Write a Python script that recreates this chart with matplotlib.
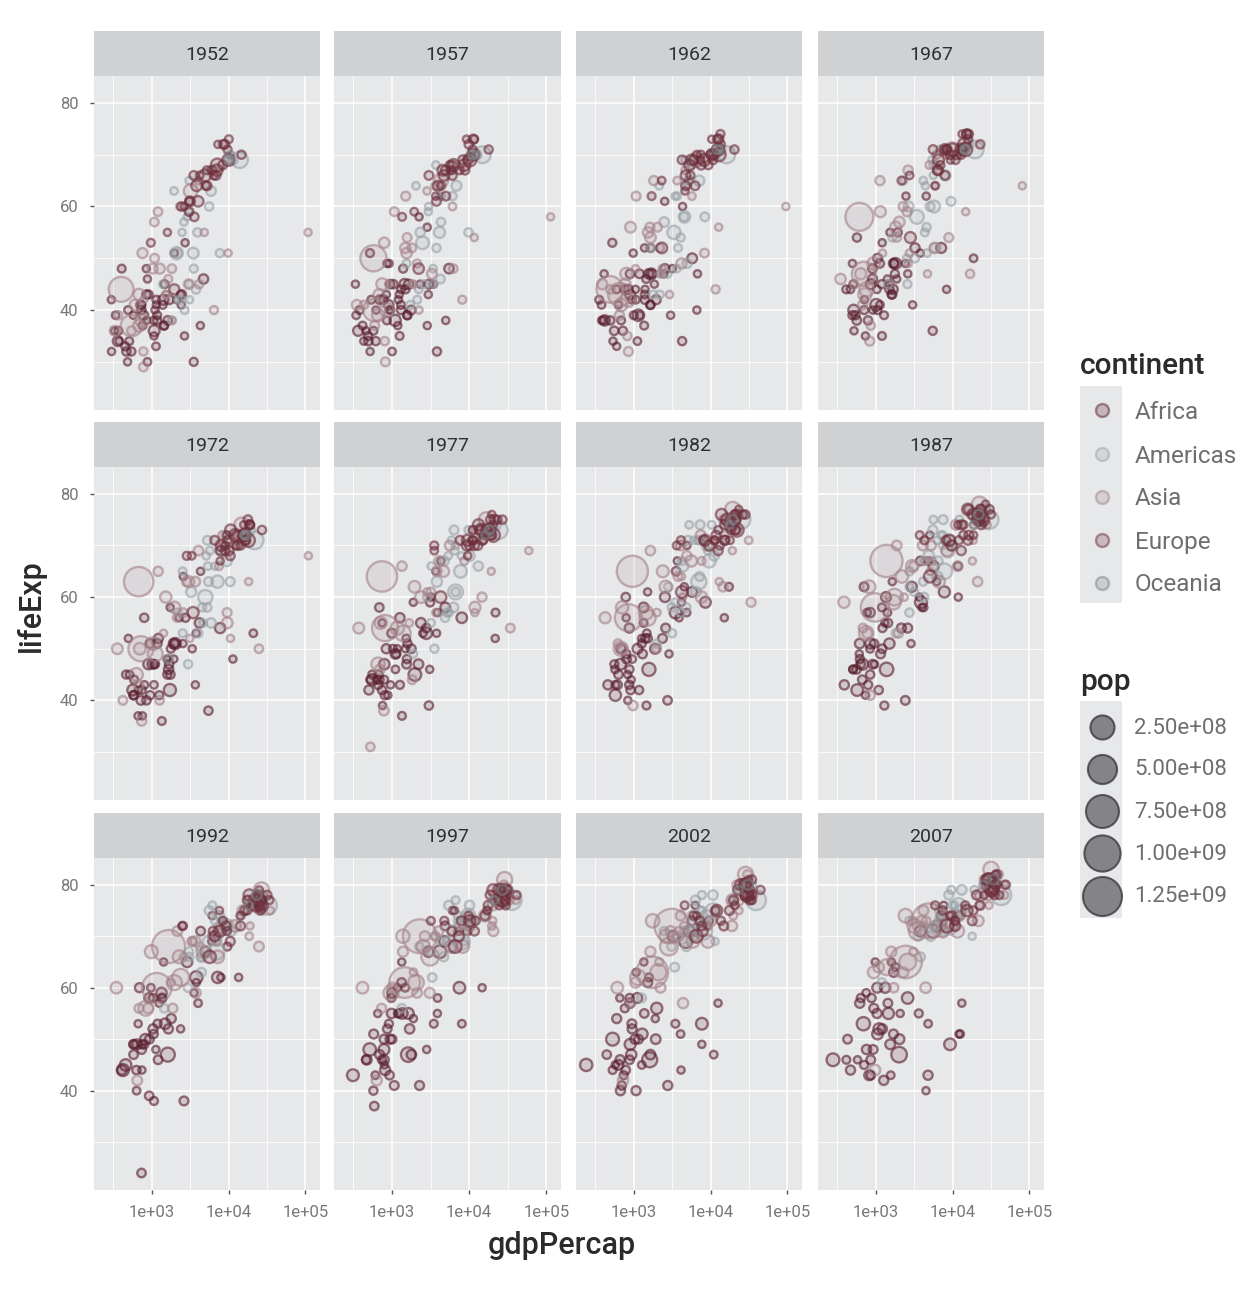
#!/usr/bin/env python3
"""Faceted life expectancy vs GDP per capita, one panel per year."""
import matplotlib
matplotlib.use("Agg")
import matplotlib.pyplot as plt
import numpy as np

YEARS = [1952, 1957, 1962, 1967, 1972, 1977, 1982, 1987, 1992, 1997, 2002, 2007]
CONTINENTS = ["Africa", "Americas", "Asia", "Europe", "Oceania"]
POP_BREAKS = [2.5e8, 5e8, 7.5e8, 1e9, 1.25e9]
POP_LABELS = ["2.50e+08", "5.00e+08", "7.50e+08", "1.00e+09", "1.25e+09"]

# --- values: gdp per capita, life expectancy, pop in millions ---
Africa_GDP_1952 = [2449,3521,1063,851,543,339,1173,1071,1179,1103,781,2126,1389,2670,1419,376,329,362,4293,485,911,510,300,854,299,576,2388,1443,369,453,744,1968,1688,469,2424,761,1077,2719,493,880,1450,880,1136,4725,1616,1148,717,859,1469,735,1147,407]
Africa_LIFE_1952 = [43,30,38,48,32,39,38,35,39,40,39,42,41,35,42,34,36,34,37,30,43,34,32,43,42,39,43,37,36,33,41,51,42,32,41,37,36,53,40,46,37,30,33,46,38,41,41,38,45,40,42,48]
Africa_POP_1952 = [9,4,2,1,5,2,5,1,3,1,14,1,3,1,22,1,1,20,1,1,5,3,1,6,1,1,1,5,3,4,1,1,10,6,1,3,33,1,3,1,3,2,2,14,8,1,8,1,4,6,3,3]
Africa_GDP_1957 = [3014,3828,960,918,617,380,1313,1191,1308,1211,906,2315,1500,2865,1459,460,344,365,4976,521,1044,576,432,944,336,621,3448,1589,416,490,847,2243,1643,495,2955,860,1101,2864,540,861,1567,1004,1258,5487,1770,1244,698,925,1396,774,1312,519]
Africa_LIFE_1957 = [45,32,40,49,34,40,40,37,41,42,41,45,44,37,45,36,39,36,38,32,45,36,34,45,45,40,45,39,37,35,43,58,45,34,43,38,38,56,42,49,39,32,35,48,40,43,42,40,48,42,44,51]
Africa_POP_1957 = [10,5,2,1,5,3,5,1,3,1,16,1,4,1,26,1,2,22,1,1,6,3,1,7,1,1,1,5,3,4,1,1,12,6,1,3,37,1,3,1,3,2,3,16,9,1,9,1,4,7,3,4]
Africa_GDP_1962 = [2551,4269,949,984,723,355,1400,1193,1390,1406,897,2465,1729,3021,1693,382,381,419,6631,600,1190,686,538,897,412,634,6757,1644,409,497,1055,2529,1566,557,3173,1002,1150,4321,597,1385,1654,1117,1369,5768,1960,1856,849,1068,1660,768,1453,527]
Africa_LIFE_1962 = [48,34,42,51,36,42,42,39,43,44,43,47,47,39,47,38,41,38,40,33,47,38,34,47,47,41,47,41,38,38,44,61,47,36,48,39,39,60,44,52,41,34,37,50,42,45,44,42,52,44,46,53]
Africa_POP_1962 = [11,5,2,1,5,3,6,2,3,1,18,1,4,1,29,1,2,25,1,1,7,3,1,8,1,1,1,6,4,5,1,1,13,7,1,3,41,1,3,1,4,2,3,18,11,1,10,2,4,8,3,4]
Africa_GDP_1967 = [3247,5523,1036,1215,795,413,1508,1136,1197,1876,861,2428,1734,3020,1814,916,469,516,8359,735,1126,709,522,1057,498,713,18773,1635,497,545,1421,2475,1711,567,3794,1054,1015,4542,511,1533,1612,1206,1285,7115,1687,2614,909,1478,1932,908,1777,570]
Africa_LIFE_1967 = [52,36,44,53,38,44,44,41,45,46,45,49,49,41,49,40,44,40,44,35,49,40,36,50,49,42,50,43,39,39,46,62,49,38,51,40,41,62,45,55,43,35,39,52,44,47,46,45,55,48,47,54]
Africa_POP_1967 = [13,5,2,1,6,3,6,2,4,1,20,1,5,1,32,1,2,28,1,1,8,4,1,10,1,1,2,6,4,5,1,1,15,8,1,4,47,1,3,1,4,3,3,20,12,1,12,2,5,9,4,5]
Africa_GDP_1972 = [4183,5473,1086,2264,855,464,1684,1070,1104,1938,905,2550,2024,3694,2024,672,515,566,11401,756,1178,742,664,1222,497,803,21011,1749,581,581,1586,2575,1930,724,3793,954,1725,4320,591,1738,1597,1353,1254,7765,1659,3365,1018,1650,2753,950,1773,799]
Africa_LIFE_1972 = [55,38,47,56,40,45,47,43,47,48,47,51,51,43,51,42,45,42,48,37,51,42,37,52,52,43,53,45,41,41,48,64,51,40,53,41,42,65,44,58,45,36,41,54,46,50,47,48,56,51,50,56]
Africa_POP_1972 = [15,6,3,1,6,4,7,2,4,1,23,1,6,1,36,1,2,31,1,1,9,4,1,12,1,2,2,7,5,6,1,1,17,9,1,5,53,1,4,1,5,3,4,23,14,1,14,2,5,10,4,6]
Africa_GDP_1977 = [4910,3009,1029,3215,744,556,1783,1109,1134,1173,796,2518,2785,3082,2786,959,521,557,21746,884,993,790,755,1268,746,640,21951,1545,663,686,1497,3710,2371,502,3876,808,1981,4320,670,1890,1562,1349,1268,8029,2203,3781,1109,1533,3120,844,1589,686]
Africa_LIFE_1977 = [58,39,50,60,42,45,50,46,49,50,47,53,54,46,53,43,44,44,52,41,53,44,39,56,55,44,57,47,43,44,50,65,55,42,57,41,45,67,45,59,48,37,43,56,47,53,49,52,59,50,51,58]
Africa_POP_1977 = [17,6,3,1,6,4,8,2,4,1,26,2,7,1,41,1,2,34,1,1,10,4,1,14,1,2,3,8,6,6,1,1,18,11,1,5,63,1,5,1,5,3,4,27,17,1,17,2,6,12,5,7]
Africa_GDP_1982 = [5745,2757,1278,4551,807,560,2368,957,798,1268,674,4879,2603,2880,3504,927,578,577,15113,836,876,875,838,1348,798,572,17364,1302,633,618,1481,3689,2551,462,4191,909,1577,4923,882,1516,1519,1465,1176,8568,1895,3895,1121,1345,3561,682,1409,788]
Africa_LIFE_1982 = [61,40,51,62,48,47,52,48,49,52,47,57,54,49,57,44,43,41,56,45,54,43,40,58,56,46,62,49,45,43,53,67,60,43,59,42,46,70,46,61,52,39,42,59,50,56,50,55,65,50,52,60]
Africa_POP_1982 = [20,7,4,1,7,4,9,2,5,1,31,2,9,1,47,1,3,39,1,1,12,5,1,17,1,2,3,9,7,7,2,1,20,12,1,6,73,1,5,1,6,3,5,31,20,1,19,3,7,13,6,7]
Africa_GDP_1987 = [5681,2430,1226,6206,912,622,2603,844,952,1315,673,4201,2156,2880,3885,966,507,574,11864,611,847,795,736,1361,773,507,11771,1156,636,563,1421,4864,2948,390,3693,668,1385,5050,847,1644,1441,1295,1094,7826,1508,3984,850,1203,3810,618,1213,706]
Africa_LIFE_1987 = [66,40,54,63,47,48,54,50,51,55,47,58,54,51,59,47,46,42,60,49,57,43,41,60,57,46,66,49,47,46,57,67,62,43,60,44,46,72,45,63,55,39,42,61,51,58,51,58,67,51,50,62]
Africa_POP_1987 = [23,8,4,1,8,5,11,3,6,1,35,2,11,1,52,1,3,45,1,1,14,6,1,21,2,2,4,10,8,8,2,1,22,13,1,7,81,1,6,1,7,4,6,35,24,1,23,3,8,15,7,9]
Africa_GDP_1992 = [5023,2628,1191,7954,932,632,1793,748,1058,1246,458,4016,1648,2377,3795,1132,582,422,13523,666,925,794,746,1341,977,636,9640,1041,582,739,1361,6058,2890,410,3804,581,1619,6101,737,1429,1368,1069,927,7225,1493,3553,826,1034,4333,644,1211,693]
Africa_LIFE_1992 = [67,38,53,62,50,44,54,49,51,57,45,57,52,52,62,48,49,44,62,53,58,49,44,59,60,40,68,52,49,48,58,69,65,44,61,47,47,74,24,65,58,38,39,62,53,59,50,58,71,49,46,60]
Africa_POP_1992 = [26,9,5,1,9,6,12,3,6,1,41,2,12,1,59,1,4,52,1,1,16,7,1,25,2,2,4,12,10,9,2,1,25,14,1,8,93,1,7,1,8,4,7,39,28,1,26,4,8,18,8,11]
Africa_GDP_1997 = [4797,2277,1233,8048,946,463,1694,741,1004,1174,312,3484,1786,1895,4173,2815,913,515,14723,654,1005,870,797,1360,1186,609,9467,987,692,790,1483,7425,2982,472,3899,580,1625,6072,590,1339,1335,575,931,7479,1632,3877,789,982,4877,816,1071,792]
Africa_LIFE_1997 = [69,41,55,53,50,46,52,46,50,60,43,53,47,54,67,48,53,48,60,55,59,52,45,55,55,43,71,55,47,50,60,71,67,46,58,51,47,75,37,65,61,40,43,60,55,55,48,58,72,44,41,46]
Africa_POP_1997 = [29,10,6,2,11,6,14,4,7,1,47,3,15,1,66,1,4,60,1,1,19,8,1,28,2,2,5,14,11,10,3,1,27,16,2,10,106,1,7,1,9,5,7,43,32,1,31,4,9,21,9,12]
Africa_GDP_2002 = [5288,2773,1373,11004,1038,446,1934,739,1156,1076,241,3484,1649,1908,4755,7703,765,531,12522,660,1112,945,575,1288,1275,531,9535,894,665,952,1579,9021,3258,634,4072,601,1615,6316,786,1353,1520,699,882,7711,1993,4128,899,886,5723,928,1072,672]
Africa_LIFE_2002 = [71,41,55,47,50,47,50,43,50,63,45,53,47,54,69,49,56,50,57,58,58,53,45,51,45,44,73,57,46,52,62,72,70,45,51,54,46,76,44,65,61,41,46,53,56,44,49,58,73,47,40,40]
Africa_POP_2002 = [31,11,7,2,12,7,16,4,9,1,55,3,16,1,73,1,4,68,1,1,20,9,1,32,2,3,5,16,12,11,3,1,31,18,2,11,120,1,8,1,11,6,8,45,37,1,34,5,10,25,11,12]
Africa_GDP_2007 = [6223,4797,1441,12570,1217,430,2042,706,1704,986,278,3633,1545,2082,5581,12154,641,691,13206,753,1328,943,579,1463,1569,415,12057,1045,759,1042,1803,10957,3820,824,4811,620,2014,7670,863,1598,1712,863,926,9270,2602,4513,1108,883,7093,1056,1271,470]
Africa_LIFE_2007 = [72,43,57,51,52,50,50,45,51,65,46,55,49,55,71,51,58,53,57,59,60,56,46,55,43,46,74,60,48,55,64,73,71,43,53,57,47,76,46,65,63,43,48,49,58,40,52,58,74,51,42,44]
Africa_POP_2007 = [33,12,8,2,14,8,18,4,10,1,65,4,18,1,80,1,5,76,1,2,23,10,1,36,2,3,6,19,13,12,3,1,33,20,2,13,135,1,9,1,12,6,9,44,42,1,38,6,10,30,12,12]

Americas_GDP_1952 = [5911,2677,2109,11367,3940,2144,2627,5587,1398,3522,3048,2428,1840,2195,2899,3478,3112,2480,1952,3759,3082,3023,13990,5717,7690]
Americas_LIFE_1952 = [63,40,51,69,55,51,57,60,45,48,45,42,38,42,58,51,42,55,63,44,65,59,69,67,51]
Americas_POP_1952 = [18,3,57,14,6,12,1,6,2,4,2,3,3,1,1,30,1,1,2,8,2,1,158,2,5]
Americas_GDP_1957 = [6857,2128,2487,12490,4315,2323,2990,6092,1544,3781,3422,2617,1727,2220,4337,4132,3458,2962,2047,4245,3708,4100,14847,6151,9803]
Americas_LIFE_1957 = [64,42,53,70,57,55,60,62,49,52,48,45,41,44,62,55,45,59,64,46,68,62,70,67,55]
Americas_POP_1957 = [20,3,65,17,7,14,1,6,3,5,2,4,4,2,2,35,1,1,2,9,2,1,172,3,6]
Americas_GDP_1962 = [7133,2181,3337,13462,4519,2492,3461,5181,1662,4086,3777,2750,1797,2291,5256,4582,3634,3681,2148,4957,4684,4998,16173,5603,8423]
Americas_LIFE_1962 = [65,43,55,71,58,57,62,65,52,54,52,47,43,47,65,58,48,62,64,49,69,64,70,68,58]
Americas_POP_1962 = [22,4,76,19,8,17,1,7,3,5,3,4,4,2,2,41,2,1,2,10,2,1,187,3,8]
Americas_GDP_1967 = [8053,2587,3430,16077,5107,2679,4161,5690,1654,4580,4359,3243,1452,2538,6125,5755,4644,4421,2299,5788,6929,5621,19530,5445,9541]
Americas_LIFE_1967 = [66,45,58,72,60,60,65,68,54,56,55,50,45,50,68,60,51,64,65,52,71,66,71,69,61]
Americas_POP_1967 = [23,4,88,21,9,20,2,8,4,6,3,5,4,2,2,47,2,1,2,12,3,1,199,3,9]
Americas_GDP_1972 = [9443,2980,4986,18971,5494,3265,5118,5305,2189,5281,4520,4031,1654,2529,7433,7170,4689,5365,2523,5938,9123,6619,21806,5703,10506]
Americas_LIFE_1972 = [67,47,60,73,63,61,68,71,57,58,58,53,48,53,69,63,55,66,65,55,72,66,71,69,63]
Americas_POP_1972 = [25,5,101,22,10,23,2,9,4,7,4,6,5,3,2,56,2,2,3,14,3,1,210,3,11]
Americas_GDP_1977 = [10079,3548,6660,22091,4757,3816,5927,6380,2861,6680,5139,4879,1875,3203,6651,7723,5486,5351,3248,6281,9771,7899,24073,6504,13144]
Americas_LIFE_1977 = [68,50,61,74,67,63,71,73,60,61,57,56,49,55,70,65,57,68,66,58,73,68,73,69,66]
Americas_POP_1977 = [27,5,114,24,11,25,2,10,5,8,4,6,5,3,2,64,2,2,3,16,3,1,220,3,13]
Americas_GDP_1982 = [8998,3157,7031,22899,5096,4398,5263,7317,2825,7214,4098,4821,2011,3121,6068,9611,3470,7010,4259,6435,10331,9119,25010,6920,11152]
Americas_LIFE_1982 = [70,53,63,76,71,66,74,74,62,64,57,58,51,58,71,67,59,71,67,61,74,69,75,71,68]
Americas_POP_1982 = [29,5,128,25,11,28,2,10,6,9,5,7,5,4,2,72,3,2,3,18,3,1,232,3,15]
Americas_GDP_1987 = [9140,2754,7807,26627,5547,4903,5630,7533,2754,6482,4140,4247,1823,3159,6351,8688,2749,7114,4227,6361,12281,7389,29884,7452,9884]
Americas_LIFE_1987 = [71,57,65,77,73,68,75,75,65,67,63,60,53,61,71,69,62,72,67,64,75,70,75,72,70]
Americas_POP_1987 = [31,6,142,26,12,31,3,10,6,10,5,8,6,4,2,80,3,2,4,20,3,1,243,3,17]
Americas_GDP_1992 = [9308,2962,6950,26343,7596,5445,6161,5593,3044,7104,4444,4439,1456,3082,7405,9472,2605,6619,4196,4446,14641,7370,32004,8137,10733]
Americas_LIFE_1992 = [72,60,67,78,74,69,76,75,67,69,66,63,56,66,72,72,66,73,68,66,74,70,76,73,71]
Americas_POP_1992 = [33,7,155,29,13,34,3,11,7,11,5,9,7,5,2,88,4,3,4,22,4,1,256,3,20]
Americas_GDP_1997 = [10967,3326,7958,28955,10118,6117,6677,5432,3614,7429,5154,4684,1342,3160,7122,9767,2253,7114,4247,5838,16999,8792,35767,9230,10165]
Americas_LIFE_1997 = [73,62,69,79,76,71,77,76,70,72,69,66,56,67,73,74,68,74,69,68,75,69,77,74,72]
Americas_POP_1997 = [36,7,168,30,14,37,3,11,8,12,6,10,7,6,2,95,4,3,5,24,4,1,273,3,22]
Americas_GDP_2002 = [8798,3413,8131,33329,10779,5755,7723,6341,4564,5773,5352,4859,1270,3099,6994,10742,2474,7357,3784,5909,18856,11461,39097,7727,8605]
Americas_LIFE_2002 = [74,64,71,80,78,71,78,77,71,74,71,68,58,68,73,75,71,75,70,70,77,69,77,75,73]
Americas_POP_2002 = [38,9,180,31,15,41,4,11,9,13,6,11,8,7,3,102,5,3,6,26,4,1,288,3,25]
Americas_GDP_2007 = [12779,3822,9066,36319,13172,7007,9645,8948,6025,6873,5728,5186,1202,3548,7321,11978,2749,9809,4173,7409,19329,18009,42952,10611,11416]
Americas_LIFE_2007 = [75,66,72,81,79,73,79,78,72,75,72,70,61,70,73,76,73,76,72,71,79,70,78,76,74]
Americas_POP_2007 = [40,9,190,33,16,44,4,11,9,14,7,13,8,8,3,109,6,3,7,28,4,1,301,3,26]

Asia_GDP_1952 = [779,9867,684,368,400,3054,547,750,3035,4130,4087,3217,1547,1089,1031,108382,4835,1831,787,331,546,1829,685,1273,6460,2315,1083,1644,1207,758,605,1516,781]
Asia_LIFE_1952 = [29,51,37,39,44,61,37,38,45,45,65,63,43,50,48,55,55,48,42,36,36,38,43,48,40,60,57,46,59,51,41,43,32]
Asia_POP_1952 = [8,1,47,5,556,2,372,82,17,6,2,86,1,9,20,1,1,7,1,20,9,1,41,22,4,1,7,4,8,21,26,1,5]
Asia_GDP_1957 = [821,11636,662,434,576,3629,590,859,3291,6229,5716,4318,1886,1571,1488,113523,6090,1810,913,351,598,2243,747,1548,8157,2844,1073,2118,1508,793,676,1827,805]
Asia_LIFE_1957 = [30,54,39,41,50,64,40,40,47,48,67,65,45,54,52,58,60,52,45,41,37,40,45,51,42,63,59,49,62,53,43,45,34]
Asia_POP_1957 = [9,1,54,5,637,3,409,90,19,7,2,92,1,10,23,1,2,8,1,21,10,1,46,26,4,1,9,4,10,25,29,1,6]
Asia_GDP_1962 = [853,12753,686,497,488,4693,658,849,4187,8342,7106,6577,2348,1622,1536,95458,5716,2037,1056,388,652,2925,803,1650,11626,3675,1074,2194,1823,907,772,2198,826]
Asia_LIFE_1962 = [32,56,41,44,44,67,43,42,49,51,69,69,48,56,55,60,62,56,48,45,39,43,47,54,44,65,62,52,65,56,45,47,35]
Asia_POP_1962 = [10,1,62,6,666,3,454,99,22,8,2,96,1,11,26,1,2,9,1,24,11,1,52,30,5,2,10,5,12,29,33,1,6]
Asia_GDP_1967 = [836,14805,721,523,613,6198,701,762,5907,8931,8394,9847,2742,2565,2029,80895,6006,2278,1227,349,676,4721,942,1814,16903,4977,1136,1882,2644,1149,637,2650,862]
Asia_LIFE_1967 = [34,59,43,45,58,70,47,44,52,54,70,71,51,59,57,64,64,60,51,46,41,47,49,56,47,68,65,54,67,59,47,49,37]
Asia_POP_1967 = [11,1,70,7,755,4,506,109,26,9,3,101,1,13,30,1,2,10,1,26,12,1,60,35,6,2,12,6,14,34,37,1,6]
Asia_GDP_1972 = [740,18269,630,422,677,8316,724,1112,9614,9576,12787,14779,2110,3702,3031,109348,7486,2849,1422,357,674,10618,1050,1989,24837,8598,1213,2572,4063,1524,700,3134,1266]
Asia_LIFE_1972 = [36,63,45,40,63,72,50,49,55,57,71,74,56,63,63,68,66,63,53,50,43,52,51,58,50,70,65,57,69,60,50,52,40]
Asia_POP_1972 = [13,1,71,8,862,4,567,121,31,10,3,107,2,15,33,1,3,12,1,29,13,1,69,41,7,2,13,7,15,39,44,1,7]
Asia_GDP_1977 = [786,19340,660,525,742,11186,813,1383,11889,14688,13306,16610,2852,4106,4657,59265,8659,3828,1675,372,695,11848,1176,2373,34168,11210,1349,3195,5597,1961,713,3682,1830]
Asia_LIFE_1977 = [38,65,47,31,64,73,54,53,58,60,73,75,61,67,65,69,67,65,55,54,46,57,54,60,54,71,66,61,70,62,55,57,44]
Asia_POP_1977 = [15,1,80,7,943,5,635,136,36,12,4,114,2,16,36,1,3,13,2,32,15,1,78,46,8,2,14,8,17,44,50,1,8]
Asia_GDP_1982 = [978,19211,677,624,962,14561,856,1517,7608,14517,15367,19384,4161,4106,5623,31354,7641,4920,2000,425,718,12955,1444,2603,33693,15169,1648,3761,7427,2393,707,4336,1978]
Asia_LIFE_1982 = [39,69,50,51,65,75,56,56,60,62,75,77,64,70,67,71,67,68,57,56,50,63,57,62,59,72,69,64,72,65,58,60,50]
Asia_POP_1982 = [13,1,94,7,1000,5,708,154,43,14,4,119,2,17,39,2,3,14,2,35,16,1,92,54,11,3,15,10,18,49,57,1,10]
Asia_GDP_1987 = [852,18524,752,683,1379,20038,977,1749,6643,11644,17123,22376,4449,4106,8533,28118,5377,5249,2338,386,776,18115,1705,2189,21199,18862,1877,3117,11054,2982,821,5108,1972]
Asia_LIFE_1987 = [41,71,53,54,67,76,58,60,63,66,76,78,67,70,69,74,67,70,60,59,53,67,59,64,63,74,70,66,74,66,62,65,53]
Asia_POP_1987 = [13,1,104,8,1084,6,788,170,52,16,4,122,3,19,41,2,3,16,2,38,18,1,105,60,14,3,16,11,20,54,63,1,11]
Asia_GDP_1992 = [649,19035,838,682,1656,24757,1164,2383,7235,3745,18051,26825,3431,3726,12104,34933,6890,7278,1786,347,898,18617,1972,2279,24841,24769,2154,3341,15216,4616,989,6018,1879]
Asia_LIFE_1992 = [42,72,56,56,68,78,60,62,66,59,77,79,69,69,72,75,69,71,61,60,56,70,61,66,68,75,71,69,75,67,67,70,56]
Asia_POP_1992 = [17,1,113,10,1165,6,872,184,60,18,5,125,4,20,44,2,4,18,2,41,20,2,120,69,17,3,17,13,21,57,70,2,13]
Asia_GDP_1997 = [635,20292,973,734,2289,28378,1459,3119,8264,3076,20897,28817,3645,1391,15994,40301,8755,10132,1902,415,1011,19702,2049,2537,20586,33519,2665,4014,20207,5853,1386,7111,2117]
Asia_LIFE_1997 = [42,73,59,56,70,80,61,66,68,59,78,81,70,67,74,77,71,72,63,60,60,72,61,68,71,77,70,71,76,68,70,71,59]
Asia_POP_1997 = [22,1,124,11,1230,6,959,200,63,21,6,126,4,21,46,2,4,21,2,44,23,2,135,75,21,4,19,15,22,61,76,2,16]
Asia_GDP_2002 = [727,23404,1136,896,3119,30209,1747,2874,9241,4391,21906,28605,3845,1647,19234,35110,9314,10206,2140,611,1057,19775,2093,2651,19014,36023,3015,4090,23235,5914,1764,4516,2235]
Asia_LIFE_2002 = [42,75,62,57,72,82,63,68,69,57,80,82,71,67,77,77,72,73,65,60,61,74,63,70,72,78,71,74,77,69,73,72,60]
Asia_POP_2002 = [25,1,136,12,1280,7,1034,211,66,24,6,127,5,22,48,2,4,23,3,45,25,3,153,82,24,4,20,17,23,63,80,3,19]
Asia_GDP_2007 = [975,29796,1391,1714,4959,39725,2452,3541,11606,4471,25523,31656,4519,1593,23348,47307,10461,12452,3096,944,1091,22316,2606,3190,21655,47143,3970,4185,28718,7458,2442,3025,2281]
Asia_LIFE_2007 = [44,76,64,60,73,82,65,71,71,60,81,83,73,67,78,78,72,74,67,63,64,76,65,72,73,80,73,75,78,71,74,73,63]
Asia_POP_2007 = [32,1,150,14,1319,7,1110,224,69,28,6,127,6,23,49,2,4,25,3,48,29,3,169,91,28,5,20,19,23,65,85,4,22]

Europe_GDP_1952 = [1601,6137,8343,974,2444,3119,6876,9692,6425,7030,7144,3531,5264,7268,5210,4931,2648,8942,10095,4029,3068,3145,3581,5074,4215,3834,8528,14734,1969,9980]
Europe_LIFE_1952 = [55,67,68,53,60,61,66,71,66,67,68,66,64,72,67,66,60,72,73,61,59,61,58,64,66,64,72,70,44,69]
Europe_POP_1952 = [1,7,9,3,7,4,9,4,4,42,69,8,9,1,3,48,1,10,3,26,8,17,7,4,2,29,7,5,22,51]
Europe_GDP_1957 = [1942,8843,9715,1354,3009,4338,8256,11100,7545,8663,10187,4916,6041,9244,5599,6249,3682,11276,11654,4734,3775,3943,4981,6093,5862,4565,9912,17909,2219,11283]
Europe_LIFE_1957 = [59,67,69,58,66,64,69,71,67,68,69,67,66,73,68,68,62,73,73,66,61,64,62,68,67,67,72,71,48,70]
Europe_POP_1957 = [2,7,9,3,8,4,10,4,4,45,71,8,10,1,3,49,1,11,3,29,9,18,8,4,2,30,7,5,26,51]
Europe_GDP_1962 = [2313,10751,10991,1710,4255,5478,10137,13583,9372,10560,12902,6017,7550,10350,6632,8244,4650,12791,13450,5339,4728,4735,6290,7481,7402,5694,12329,20431,2323,12477]
Europe_LIFE_1962 = [65,69,70,62,69,66,70,72,68,70,70,69,68,73,70,69,63,73,74,68,64,66,64,70,69,69,73,71,52,71]
Europe_POP_1962 = [2,7,9,3,8,4,10,5,5,47,73,8,10,1,3,51,1,12,4,30,9,19,8,4,2,31,8,6,29,53]
Europe_GDP_1967 = [2760,12835,13149,2172,5578,6960,11399,15937,10922,12999,14746,8513,9326,13320,7884,10022,5907,15363,16362,6557,6362,6471,7991,8412,9405,7994,15258,22966,2826,14143]
Europe_LIFE_1967 = [66,70,71,65,71,68,70,73,69,71,71,71,70,74,71,71,64,74,74,69,67,67,66,71,69,71,74,72,54,72]
Europe_POP_1967 = [2,7,10,4,8,4,10,5,5,50,76,9,10,1,3,53,1,13,4,32,9,19,8,5,2,32,8,6,33,55]
Europe_GDP_1972 = [3313,16662,16672,2860,6597,9165,13108,18866,14359,16107,18016,12725,10168,15798,9531,12269,7778,18795,18965,8007,9022,8011,10523,9674,12383,10639,17832,27195,3451,15895]
Europe_LIFE_1972 = [68,71,71,68,71,70,70,74,70,72,71,72,69,74,72,72,67,74,74,70,69,69,68,71,70,73,75,73,57,72]
Europe_POP_1972 = [2,8,10,4,9,4,10,5,5,52,78,9,10,1,3,55,1,13,4,33,9,21,9,5,2,34,8,6,37,56]
Europe_GDP_1977 = [3533,19749,19118,3528,7612,11305,14800,20423,15605,18293,20513,14196,11674,19655,11151,14256,9596,21209,23311,9508,10172,9356,12980,10922,15277,13237,18856,26982,4269,17429]
Europe_LIFE_1977 = [69,72,72,70,71,71,71,74,72,73,72,73,70,76,73,73,68,75,75,71,70,70,70,71,71,74,75,75,60,73]
Europe_POP_1977 = [2,8,10,4,9,4,10,5,5,53,78,9,11,1,3,56,1,14,4,35,10,22,9,5,2,36,8,6,42,56]
Europe_GDP_1982 = [3631,21597,20979,4127,8224,13222,15377,21688,18533,20294,22031,15268,12546,23270,12618,16537,11223,21400,26299,8451,11754,9605,15182,11348,17867,13926,20667,28398,4241,18232]
Europe_LIFE_1982 = [70,73,73,71,71,70,71,75,73,75,73,74,69,77,73,75,71,76,76,71,72,70,71,71,71,76,76,76,61,74]
Europe_POP_1982 = [3,8,10,4,9,5,10,5,5,55,78,10,11,1,3,57,1,14,4,36,10,23,10,5,2,38,8,6,47,56]
Europe_GDP_1987 = [3739,23688,22526,4314,8240,13823,16310,25116,21141,22066,24639,16121,12986,26923,13873,19208,11733,23007,31541,9083,13039,9696,15871,12038,18678,15765,23586,30282,5089,21664]
Europe_LIFE_1987 = [72,74,75,71,71,72,72,75,75,76,75,77,69,78,74,76,74,77,76,71,74,70,71,71,72,77,77,77,64,75]
Europe_POP_1987 = [3,8,10,4,9,5,10,5,5,56,77,10,11,1,4,57,1,15,4,38,10,23,10,5,2,39,8,7,53,57]
Europe_GDP_1992 = [2497,27042,25576,2547,6303,8448,14297,26407,20647,24704,26505,17541,10536,25144,17559,22014,7611,26791,33966,7739,16207,6598,9326,9498,14215,18603,23880,31872,5678,22705]
Europe_LIFE_1992 = [72,76,76,72,71,73,72,75,76,77,76,77,69,79,75,77,75,77,77,71,75,70,72,71,74,78,78,78,66,76]
Europe_POP_1992 = [3,8,10,4,8,4,10,5,5,58,80,10,10,1,4,57,1,15,4,38,10,23,10,5,2,39,9,7,58,58]
Europe_GDP_1997 = [3193,29096,27561,4766,5970,9876,16049,29804,23724,28817,27788,18748,11713,28061,24521,24675,6465,30246,41283,10160,17641,7346,7914,12127,17161,20445,25267,32135,6601,26074]
Europe_LIFE_1997 = [73,77,78,73,71,74,74,76,77,79,77,78,71,79,76,79,75,78,78,73,76,70,73,73,75,79,79,79,68,77]
Europe_POP_1997 = [3,8,10,4,8,4,10,5,5,59,82,11,10,1,4,57,1,16,4,39,10,22,10,5,2,40,9,7,64,59]
Europe_GDP_2002 = [4604,32418,30486,6019,7697,11628,17596,32167,28205,28926,30036,22514,14843,31163,34077,27968,6557,33725,44684,12002,19971,7885,7236,13639,20660,24835,29342,34481,6508,29479]
Europe_LIFE_2002 = [76,79,78,74,72,75,75,77,78,80,78,79,72,81,77,80,74,78,79,75,77,71,73,73,76,80,80,81,70,78]
Europe_POP_2002 = [3,8,10,4,8,4,10,5,5,60,82,11,10,1,4,57,1,16,5,38,10,22,10,5,2,40,9,7,67,59]
Europe_GDP_2007 = [5937,36126,33693,7446,10681,14619,22833,35278,33207,30470,32170,27538,18009,36181,40676,28570,9254,36798,49357,15390,20510,10808,9787,18678,25768,28821,33860,37506,8458,33203]
Europe_LIFE_2007 = [76,80,79,75,73,76,76,78,79,81,79,80,73,82,78,81,74,80,80,75,78,72,74,75,78,81,81,82,72,79]
Europe_POP_2007 = [4,8,10,5,7,4,10,5,5,61,82,11,10,1,4,58,1,17,5,38,11,22,10,5,2,40,9,8,71,61]

Oceania_GDP_1952 = [10040,10557]; Oceania_LIFE_1952 = [69,70]; Oceania_POP_1952 = [9,2]
Oceania_GDP_1957 = [10950,12247]; Oceania_LIFE_1957 = [70,70]; Oceania_POP_1957 = [10,2]
Oceania_GDP_1962 = [12217,13176]; Oceania_LIFE_1962 = [71,71]; Oceania_POP_1962 = [11,2]
Oceania_GDP_1967 = [14526,14464]; Oceania_LIFE_1967 = [71,71]; Oceania_POP_1967 = [12,3]
Oceania_GDP_1972 = [16789,16046]; Oceania_LIFE_1972 = [72,72]; Oceania_POP_1972 = [13,3]
Oceania_GDP_1977 = [18334,16234]; Oceania_LIFE_1977 = [73,72]; Oceania_POP_1977 = [14,3]
Oceania_GDP_1982 = [19477,17632]; Oceania_LIFE_1982 = [75,74]; Oceania_POP_1982 = [15,3]
Oceania_GDP_1987 = [21889,19007]; Oceania_LIFE_1987 = [76,74]; Oceania_POP_1987 = [16,3]
Oceania_GDP_1992 = [23425,18363]; Oceania_LIFE_1992 = [78,76]; Oceania_POP_1992 = [18,4]
Oceania_GDP_1997 = [26998,21050]; Oceania_LIFE_1997 = [79,77]; Oceania_POP_1997 = [18,4]
Oceania_GDP_2002 = [30688,23190]; Oceania_LIFE_2002 = [80,79]; Oceania_POP_2002 = [20,4]
Oceania_GDP_2007 = [34435,25185]; Oceania_LIFE_2007 = [81,80]; Oceania_POP_2007 = [20,4]

# --- styling ---
W, H = 1258, 1290
FONT = "Roboto"
PANEL = "#E7E8EA"
STRIP = "#D0D1D3"
EDGE = {"Africa": "#5B2030", "Americas": "#9AA3A8", "Asia": "#A5848A",
        "Europe": "#6E2F3C", "Oceania": "#7B8085"}
COL_X = [(94, 320), (334, 561), (576, 802), (818, 1044)]
ROW_Y = [(31, 76, 410), (422, 467, 800), (813, 858, 1190)]

plt.rcParams["font.family"] = [FONT, "DejaVu Sans"]


def px_axes(fig, left, top, right, bottom):
    return fig.add_axes([left / W, 1 - bottom / H, (right - left) / W, (bottom - top) / H])


def point_area(pop_millions, base=6.5, slope=0.78):
    # diameter in pixels -> scatter area in points^2 (dpi 100)
    d = base + slope * np.sqrt(np.asarray(pop_millions, dtype=float))
    return (d * 0.72) ** 2


def rgba(color, alpha):
    return matplotlib.colors.to_rgba(color, alpha)


def draw_panel(ax, year, show_x, show_y):
    ax.set_facecolor(PANEL)
    ax.set_xscale("log")
    ax.set_xlim(10 ** 2.249, 10 ** 5.19)
    ax.set_ylim(20.7, 85.2)
    ax.set_xticks([1e3, 1e4, 1e5])
    ax.set_xticks([10 ** 2.5, 10 ** 3.5, 10 ** 4.5], minor=True)
    ax.set_yticks([40, 60, 80])
    ax.set_yticks([30, 50, 70], minor=True)
    ax.xaxis.set_major_formatter(matplotlib.ticker.FuncFormatter(lambda v, _: "1e+%02d" % round(np.log10(v))))
    ax.xaxis.set_minor_formatter(matplotlib.ticker.NullFormatter())
    ax.grid(True, which="major", color="white", lw=1.1, zorder=0)
    ax.grid(True, which="minor", color="white", lw=0.55, zorder=0)
    ax.set_axisbelow(True)
    for s in ax.spines.values():
        s.set_visible(False)
    ax.tick_params(which="minor", length=0)
    ax.tick_params(axis="x", which="major", length=3 if show_x else 0, width=1, color="#55565A",
                   labelbottom=show_x, labelsize=12, labelcolor="#77787B", pad=8)
    ax.tick_params(axis="y", which="major", length=3 if show_y else 0, width=1, color="#55565A",
                   labelleft=show_y, labelsize=12, labelcolor="#77787B", pad=8)
    for cont in CONTINENTS:
        gdp = globals()[f"{cont}_GDP_{year}"]
        life = globals()[f"{cont}_LIFE_{year}"]
        pop = globals()[f"{cont}_POP_{year}"]
        n = min(len(gdp), len(life), len(pop))
        ax.scatter(gdp[:n], life[:n], s=point_area(pop[:n]), facecolors=[rgba(EDGE[cont], 0.16)],
                   edgecolors=[rgba(EDGE[cont], 0.62)], linewidths=1.7, zorder=3)


def draw_legend(fig):
    fig.text(1080 / W, 1 - 366 / H, "continent", fontsize=21.5, fontweight="medium", color="#2A2B2D", va="center")
    ax = px_axes(fig, 1080, 386, 1122, 603)
    ax.set_facecolor(PANEL)
    ax.set_xlim(1080, 1122)
    ax.set_ylim(603, 386)
    ax.axis("off")
    ax.add_patch(plt.Rectangle((1080, 386), 42, 217, color=PANEL, zorder=0))
    key_y = [410, 454, 497, 540, 583]
    for cont, y in zip(CONTINENTS, key_y):
        ax.scatter([1102], [y], s=(13 * 0.72) ** 2, facecolors=[rgba(EDGE[cont], 0.25)],
                   edgecolors=[rgba(EDGE[cont], 0.5)], linewidths=1.7, zorder=3)
        fig.text(1135 / W, 1 - (y + 2) / H, cont, fontsize=17.5, color="#6D6E71", va="center")

    fig.text(1080 / W, 1 - 682 / H, "pop", fontsize=21.5, fontweight="medium", color="#2A2B2D", va="center")
    ax = px_axes(fig, 1080, 701, 1122, 918)
    ax.set_xlim(1080, 1122)
    ax.set_ylim(918, 701)
    ax.axis("off")
    ax.add_patch(plt.Rectangle((1080, 701), 42, 217, color=PANEL, zorder=0))
    key_y = [727, 769, 811, 853, 896]
    for brk, lab, y in zip(POP_BREAKS, POP_LABELS, key_y):
        s = point_area(brk / 1e6, base=12.0, slope=0.765)
        ax.scatter([1102], [y], s=s, facecolors=[(0.2, 0.2, 0.22, 0.55)],
                   edgecolors=[(0.2, 0.2, 0.22, 0.75)], linewidths=1.5, zorder=3, clip_on=False)
        fig.text(1134 / W, 1 - (y + 1) / H, lab, fontsize=16, color="#6D6E71", va="center")


def main():
    fig = plt.figure(figsize=(W / 100, H / 100), dpi=100)
    for i, year in enumerate(YEARS):
        r, c = i // 4, i % 4
        left, right = COL_X[c]
        strip_top, top, bottom = ROW_Y[r]
        strip = px_axes(fig, left, strip_top, right, top)
        strip.set_facecolor(STRIP)
        strip.set_xticks([])
        strip.set_yticks([])
        for s in strip.spines.values():
            s.set_visible(False)
        strip.text(0.5, 0.46, str(year), transform=strip.transAxes, ha="center", va="center",
                   fontsize=14, color="#2F3033")
        ax = px_axes(fig, left, top, right, bottom)
        draw_panel(ax, year, show_x=(r == 2), show_y=(c == 0))

    fig.text(562 / W, 1 - 1246 / H, "gdpPercap", ha="center", va="center", fontsize=22,
             fontweight="medium", color="#2A2B2D")
    fig.text(31 / W, 1 - 606 / H, "lifeExp", ha="center", va="center", rotation=90, fontsize=22,
             fontweight="medium", color="#2A2B2D")
    draw_legend(fig)
    fig.savefig("out.png", dpi=100, facecolor="white")


if __name__ == "__main__":
    main()
